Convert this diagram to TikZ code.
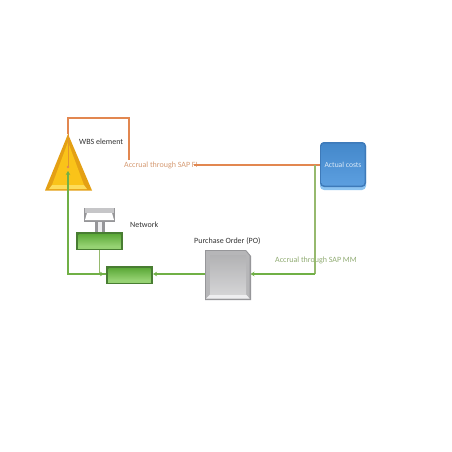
\documentclass[tikz,border=0pt]{standalone}
\usepackage{fontspec}
\setmainfont{Carlito}
\usetikzlibrary{arrows.meta,calc}
\definecolor{orangeline}{RGB}{226,135,80}
\definecolor{greenline}{RGB}{112,176,70}
\definecolor{paleline}{RGB}{150,185,110}
\definecolor{labelorange}{RGB}{214,155,115}
\definecolor{labelgreen}{RGB}{145,172,115}
\definecolor{gmid}{RGB}{105,190,65}
\definecolor{gdark}{RGB}{72,125,50}
\definecolor{glight}{RGB}{150,210,115}
\definecolor{graymid}{RGB}{198,198,200}
\definecolor{graydark}{RGB}{150,150,153}
\definecolor{graylight}{RGB}{238,238,240}
\definecolor{yellowmid}{RGB}{250,195,25}
\definecolor{yellowdark}{RGB}{228,160,20}
\definecolor{yellowlight}{RGB}{253,220,90}
\definecolor{bluemid}{RGB}{74,148,220}
\definecolor{bluedark}{RGB}{62,122,185}
\definecolor{bluelight}{RGB}{140,195,240}
\tikzset{x=1pt,y=-1pt,
 lbl/.style={inner sep=0pt,font=\fontsize{8}{9}\selectfont,text=black!80},
 orangelabel/.style={lbl,text=labelorange},
 greenlabel/.style={lbl,text=labelgreen},
 oline/.style={draw=orangeline,line width=1.1pt},
 gline/.style={draw=greenline,line width=1.1pt},
 garrow/.style={gline,-{Stealth[length=4pt,width=4.5pt]}},
 box/.style={inner sep=0pt,anchor=north west}
}
\newcommand{\greenblock}[3]{% name,x,y  (47 x 18)
 \fill[gdark] (#2,#3) rectangle ++(47,18);
 \fill[glight] (#2+2,#3+14) rectangle ++(43,2.8);
 \shade[top color=gmid!90!black,bottom color=glight] (#2+2.5,#3+2.5) rectangle ++(42,11.5);
 \node[box,minimum width=47pt,minimum height=18pt] (#1) at (#2,#3) {};
}
\begin{document}
\begin{tikzpicture}
\useasboundingbox (0,0) rectangle (452,452);
\fill[white] (0,0) rectangle (452,452);
% triangle
\fill[yellowdark] (68,134) -- (92,190.5) -- (45,190.5) -- cycle;
\fill[yellowmid] (68,142) -- (52,185) -- (84,185) -- cycle;
\fill[yellowlight] (49,189) -- (87,189) -- (84,185) -- (52,185) -- cycle;
\coordinate (apex) at (68,134);
\coordinate (tricentre) at (68,167);
\coordinate (tritip) at (68,171);
% boxes
\greenblock{net}{76}{232}
\fill[graydark] (84,208) rectangle (115,222);
\fill[white] (87,213) -- (112,213) -- (114,220) -- (85,220) -- cycle;
\fill[graymid] (85,208) rectangle (114,213);
\fill[graydark] (95,222) rectangle (105,232);
\fill[graylight] (98,222) rectangle (102,232);
\node[box,minimum width=31pt,minimum height=14pt] (nettop) at (84,208) {};
\greenblock{wp}{106}{266}
% PO
\fill[graydark] (205,250) -- (246,250) -- (251,256) -- (251,300) -- (205,300) -- cycle;
\fill[graymid!92!black] (206,251) -- (245.5,251) -- (249.5,256) -- (249.5,298.5) -- (206,298.5) -- cycle;
\fill[graylight] (206,298.5) -- (249.5,298.5) -- (246,294.5) -- (210,294.5) -- cycle;
\shade[top color=graymid!90!black,bottom color=graymid!75!white] (210,255) rectangle (246,294.5);
\node[box,minimum width=46pt,minimum height=50pt] (po) at (205,250) {};
% actual costs
\fill[bluelight,rounded corners=4pt] (320,142) rectangle (366,190);
\fill[bluedark,rounded corners=4pt] (320,142) rectangle (366,187);
\shade[top color=bluemid!92!black,bottom color=bluemid!90!white,rounded corners=3pt] (321.5,143.5) rectangle (364.5,185.5);
\node[box,minimum width=46pt,minimum height=48pt] (ac) at (320,142) {};
\node[inner sep=0pt,text=white!80!bluemid,font=\fontsize{7.6}{9}\selectfont] (aclabel) at (343,165) {Actual costs};
% labels
\node[lbl,anchor=west] (wbs) at (79,142) {WBS element};
\node[lbl,anchor=west] (nw) at (130,224.5) {Network};
\node[lbl,anchor=west] (polabel) at (194,241.5) {Purchase Order (PO)};
\node[orangelabel,anchor=west] (fi) at (124,165.5) {Accrual through SAP FI};
\node[greenlabel,anchor=west] (mm) at (275,260.5) {Accrual through SAP MM};
% connector helpers
\coordinate (acleft) at (320,165);
\coordinate (fiend) at (194,165);
\coordinate (orA) at (68,118);
\coordinate (orB) at (129,118);
\coordinate (orC) at (129,160);
\coordinate (grTop) at (315,165);
\coordinate (grBot) at (315,274);
\coordinate (poR) at (250.5,274);
\coordinate (poL) at (205,274);
\coordinate (wpR) at (153,274);
\coordinate (wpL) at (106,274);
\coordinate (netB) at (99,250);
\coordinate (netJ) at (99,274);
\coordinate (netK) at (104,274);
\coordinate (grL) at (68,274);
% connectors
\draw[draw=yellowdark!60!orangeline,line width=.8pt] (tricentre) -- (apex);
\draw[oline] (apex) -- (orA) -- (orB) -- (orC);
\draw[oline] (fiend) -- (acleft);
\fill[orangeline] (tricentre) circle (1.3pt);
\draw[draw=paleline,line width=1.1pt] (grTop) -- (grBot);
\draw[garrow] (grBot) -- (poR);
\draw[garrow] (poL) -- (wpR);
\draw[garrow] (wpL) -- (grL) -- (tritip);
\draw[draw=paleline,line width=.7pt] (netB) -- (netJ);
\draw[garrow] (netJ) -- (netK);
\end{tikzpicture}
\end{document}
